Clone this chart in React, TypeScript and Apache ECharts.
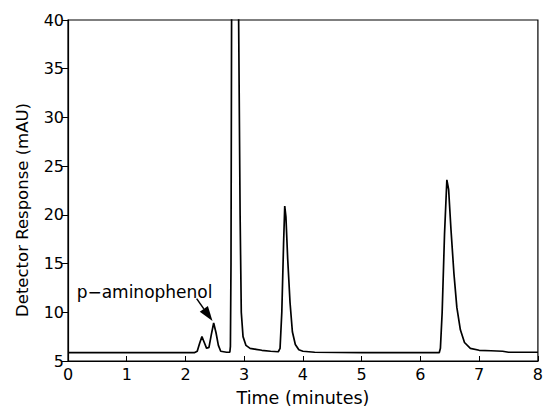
import React, { useEffect, useRef } from "react";
import * as echarts from "echarts";

const timeMin: number[] = [
  0, 1.0, 2.0, 2.15, 2.2, 2.24, 2.28, 2.32, 2.36, 2.4, 2.44, 2.48, 2.52, 2.56, 2.6, 2.7,
  2.755, 2.765, 2.775, 2.785, 2.8, 2.89, 2.905, 2.93, 2.95, 2.98, 3.03, 3.1, 3.2, 3.3, 3.45,
  3.58, 3.61, 3.64, 3.67, 3.69, 3.71, 3.74, 3.78, 3.82, 3.87, 3.93, 4.0, 4.2, 5.0, 6.0,
  6.32, 6.34, 6.37, 6.41, 6.45, 6.48, 6.52, 6.57, 6.62, 6.68, 6.75, 6.85, 7.0, 7.2, 7.4,
  7.5, 8.0,
];
const response: number[] = [
  5.85, 5.85, 5.85, 5.85, 6.0, 6.8, 7.5, 6.9, 6.3, 6.4, 7.7, 8.9, 7.9, 6.6, 6.0, 5.9,
  5.9, 6.5, 15, 40, 48, 48, 40, 20, 10, 7.5, 6.6, 6.3, 6.2, 6.1, 6.0,
  5.95, 6.3, 10, 17, 20.9, 19.8, 15.5, 11, 8, 6.7, 6.15, 6.0, 5.9, 5.85, 5.85,
  5.85, 6.3, 10, 18, 23.6, 22.6, 18.5, 14, 10.5, 8.2, 6.9, 6.3, 6.1, 6.05, 6.0,
  5.9, 5.9,
];
const xTicks: number[] = [0, 1, 2, 3, 4, 5, 6, 7, 8];
const yTicks: number[] = [5, 10, 15, 20, 25, 30, 35, 40];
const xTitle = "Time (minutes)";
const yTitle = "Detector Response (mAU)";
const annotationText = "p\u2212aminophenol";

const FONT = "DejaVu Sans";

export default function App() {
  const ref = useRef<HTMLDivElement>(null);
  useEffect(() => {
    if (!ref.current) return;
    const chart = echarts.init(ref.current, undefined, { renderer: "svg" });
    const data = timeMin.map((t, i) => [t, response[i]]);
    chart.setOption({
      animation: false,
      backgroundColor: "#fff",
      grid: {
        left: 68,
        right: 4,
        top: 20,
        bottom: 49,
        show: true,
        borderColor: "#000",
        borderWidth: 1.2,
        backgroundColor: "transparent",
      },
      xAxis: {
        type: "value",
        min: xTicks[0],
        max: xTicks[xTicks.length - 1],
        interval: 1,
        name: xTitle,
        nameLocation: "middle",
        nameGap: 28,
        nameTextStyle: { fontFamily: FONT, fontSize: 17.5, color: "#000" },
        axisLine: { show: true, lineStyle: { color: "#000", width: 1.2 } },
        axisTick: { show: true, inside: true, length: 5, lineStyle: { color: "#000" } },
        axisLabel: { fontFamily: FONT, fontSize: 16, color: "#000", margin: 5 },
        splitLine: { show: false },
      },
      yAxis: {
        type: "value",
        min: yTicks[0],
        max: yTicks[yTicks.length - 1],
        interval: 5,
        axisLine: { show: true, lineStyle: { color: "#000", width: 1.2 } },
        axisTick: { show: true, length: 6, lineStyle: { color: "#000" } },
        axisLabel: { fontFamily: FONT, fontSize: 16, color: "#000", margin: 4 },
        splitLine: { show: false },
      },
      series: [
        {
          type: "line",
          data,
          symbol: "none",
          clip: true,
          lineStyle: { color: "#000", width: 1.7 },
        },
      ],
    });
    const tip = chart.convertToPixel({ gridIndex: 0 }, [2.46, 9.1]) as number[];
    const tail = chart.convertToPixel({ gridIndex: 0 }, [2.19, 11.4]) as number[];
    const dx = tip[0] - tail[0];
    const dy = tip[1] - tail[1];
    const len = Math.sqrt(dx * dx + dy * dy);
    const ux = dx / len;
    const uy = dy / len;
    const headLen = 15;
    const headW = 5;
    const bx = tip[0] - ux * headLen;
    const by = tip[1] - uy * headLen;
    chart.setOption({
      graphic: [
        {
          type: "text",
          x: 22,
          y: 210,
          rotation: Math.PI / 2,
          style: {
            text: yTitle,
            font: `16.5px ${FONT}`,
            fill: "#000",
            align: "center",
            verticalAlign: "middle",
          },
        },
        {
          type: "text",
          x: tail[0] - 120,
          y: tail[1] - 15,
          style: { text: annotationText, font: `17px ${FONT}`, fill: "#000" },
        },
        {
          type: "line",
          shape: { x1: tail[0], y1: tail[1], x2: bx, y2: by },
          style: { stroke: "#000", lineWidth: 1.5 },
        },
        {
          type: "polygon",
          shape: {
            points: [
              [tip[0], tip[1]],
              [bx - uy * headW, by + ux * headW],
              [bx + uy * headW, by - ux * headW],
            ],
          },
          style: { fill: "#000" },
        },
      ],
    });
    return () => chart.dispose();
  }, []);
  return <div ref={ref} style={{ width: 546, height: 412, position: "absolute", left: 0, top: 0 }} />;
}
